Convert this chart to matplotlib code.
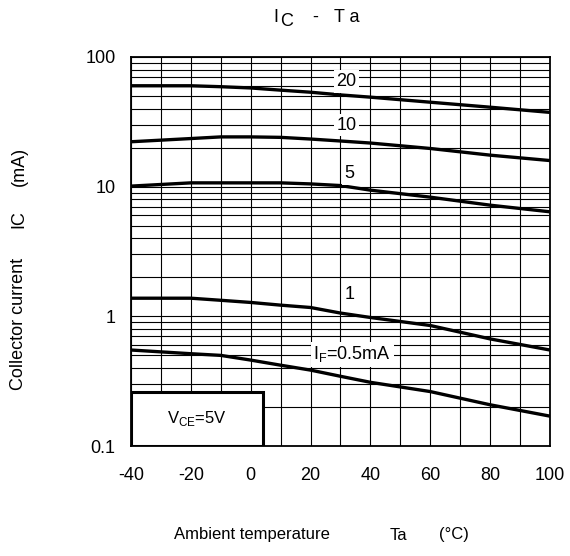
import numpy as np
import matplotlib
matplotlib.use('Agg')
import matplotlib.pyplot as plt
from matplotlib.patches import Rectangle
from matplotlib.ticker import LogLocator, FixedLocator, NullFormatter

plt.rcParams['font.family'] = ['Liberation Sans', 'DejaVu Sans']
plt.rcParams['mathtext.fontset'] = 'custom'
plt.rcParams['mathtext.rm'] = 'Liberation Sans'
plt.rcParams['axes.unicode_minus'] = False

# temperature points (deg C)
ta = [-40, -20, -10, 0, 10, 20, 30, 40, 60, 80, 100]

# collector current (mA) for each forward current
ic_20 = [60, 60, 59, 57.7, 55.5, 53.5, 51, 49, 44.8, 41, 37.4]
ic_10 = [22.2, 23.5, 24.2, 24.2, 24.0, 23.3, 22.5, 21.7, 19.7, 17.5, 15.9]
ic_5 = [10.1, 10.7, 10.7, 10.7, 10.7, 10.5, 10.2, 9.4, 8.3, 7.2, 6.4]
ic_1 = [1.38, 1.38, 1.33, 1.28, 1.22, 1.17, 1.06, 0.98, 0.85, 0.67, 0.55]
ic_05 = [0.55, 0.515, 0.50, 0.46, 0.42, 0.385, 0.345, 0.31, 0.263, 0.208, 0.17]

curves = [ic_20, ic_10, ic_5, ic_1, ic_05]
labels = ['20', '10', '5', '1', 'I$_\\mathregular{F}$=0.5mA']
label_x = [32, 32, 33, 33, 34]
label_y = [64.5, 29.8, 12.6, 1.48, 0.51]

fig = plt.figure(figsize=(5.7, 5.56), dpi=100)
ax = fig.add_axes([0.2298, 0.1978, 0.735, 0.6997])

for ic in curves:
    ax.plot(ta, ic, color='black', lw=2.4, solid_capstyle='butt', zorder=3)

ax.set_yscale('log')
ax.set_xlim(-40, 100)
ax.set_ylim(0.1, 100)

ax.xaxis.set_major_locator(FixedLocator(range(-40, 101, 20)))
ax.xaxis.set_minor_locator(FixedLocator(range(-30, 100, 20)))
ax.yaxis.set_major_locator(FixedLocator([0.1, 1, 10, 100]))
ax.yaxis.set_minor_locator(LogLocator(base=10, subs=np.arange(2, 10)))
ax.yaxis.set_minor_formatter(NullFormatter())
ax.set_yticklabels(['0.1', '1', '10', '100'])

ax.grid(True, which='both', color='black', lw=0.8, zorder=1)
ax.tick_params(which='both', length=0, labelsize=13)
ax.tick_params(axis='x', pad=15)
ax.tick_params(axis='y', pad=11)
for s in ax.spines.values():
    s.set_linewidth(1.3)

for lab, x, y in zip(labels, label_x, label_y):
    ax.text(x, y, lab, fontsize=13, ha='center', va='center', zorder=4,
            bbox=dict(facecolor='white', edgecolor='none', pad=2))

ax.add_patch(Rectangle((-40, 0.1), 44, 0.16, facecolor='white', edgecolor='black',
                       lw=2.2, zorder=5))
ax.text(-18, 0.163, 'V$_\\mathregular{CE}$=5V', fontsize=12, ha='center', va='center', zorder=6)

# axis labels, placed piece by piece with wide gaps as in the original
W, H = 570, 556
fig.text(330 / W, 1 - 535 / H, 'Ambient temperature', fontsize=12, ha='right', va='center')
fig.text(398 / W, 1 - 535 / H, 'Ta', fontsize=12, ha='center', va='center')
fig.text(454 / W, 1 - 535 / H, '(°C)', fontsize=12, ha='center', va='center')

fig.text(19 / W, 1 - 390 / H, 'Collector current', fontsize=13, rotation=90, ha='center', va='bottom')
fig.text(19 / W, 1 - 219 / H, 'IC', fontsize=13, rotation=90, ha='center', va='center')
fig.text(19 / W, 1 - 166 / H, '(mA)', fontsize=13, rotation=90, ha='center', va='center')

# title with full-size, lowered C
fig.text(276 / W, 1 - 17 / H, 'I', fontsize=13, ha='center', va='center')
fig.text(287 / W, 1 - 22 / H, 'C', fontsize=13, ha='center', va='center')
fig.text(315 / W, 1 - 17 / H, '-', fontsize=13, ha='center', va='center')
fig.text(347 / W, 1 - 17 / H, 'T a', fontsize=13, ha='center', va='center')

fig.savefig('out.png', dpi=100)
